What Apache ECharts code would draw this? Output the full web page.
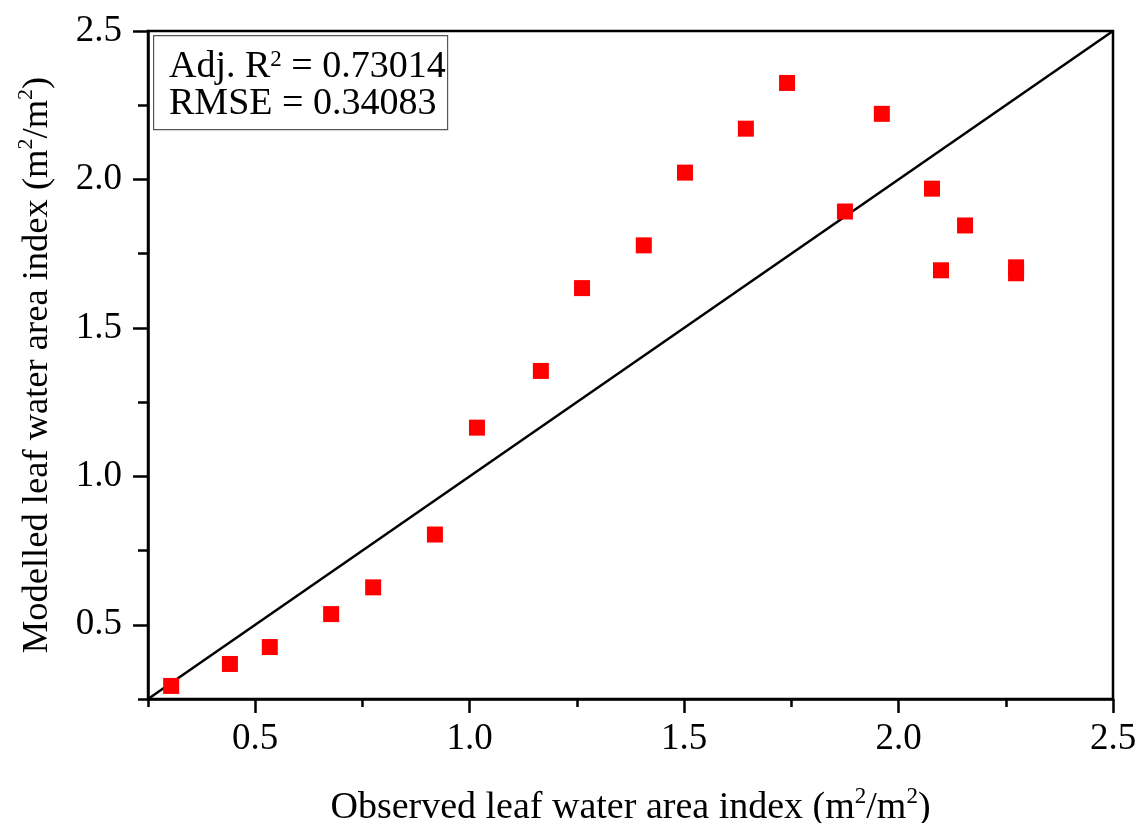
<!DOCTYPE html>
<html>
<head>
<meta charset="utf-8">
<script src="https://cdn.jsdelivr.net/npm/echarts@6/dist/echarts.min.js"></script>
<style>
html,body{margin:0;padding:0;background:#fff;}
#chart{width:1146px;height:823px;}
</style>
</head>
<body>
<div id="chart"></div>
<script>
// Observed vs modelled leaf water area index (m2/m2)
var observed = [0.304,0.441,0.534,0.677,0.775,0.919,1.017,1.166,1.262,1.406,1.502,1.644,1.740,1.875,1.961,2.078,2.099,2.155,2.274,2.274];
var modelled = [0.294,0.368,0.425,0.536,0.626,0.804,1.164,1.355,1.634,1.778,2.023,2.171,2.325,1.892,2.221,1.969,1.694,1.845,1.704,1.684];
// 1:1 line
var lineX = [0.25, 2.5];
var lineY = [0.25, 2.5];
// Axis ticks
var majorTicks = [0.5, 1.0, 1.5, 2.0, 2.5];
var statsAdjR2 = '0.73014';
var statsRMSE = '0.34083';

var FONT = '"Liberation Serif","Times New Roman",serif';
var scatterData = observed.map(function(x, i){ return [x, modelled[i]]; });
var lineData = lineX.map(function(x, i){ return [x, lineY[i]]; });

function fmt(v){ return v.toFixed(1); }

var richX = {
  a: {fontFamily: FONT, fontSize: 38, color: '#000'},
  s: {fontFamily: FONT, fontSize: 23, color: '#000', verticalAlign: 'top', lineHeight: 46}
};
var richY = {
  a: {fontFamily: FONT, fontSize: 36.5, color: '#000'},
  s: {fontFamily: FONT, fontSize: 22, color: '#000', verticalAlign: 'top', lineHeight: 44}
};

var chart = echarts.init(document.getElementById('chart'), null, {renderer: 'canvas'});
chart.setOption({
  backgroundColor: '#fff',
  animation: false,
  grid: {left: 148, right: 33, top: 31, bottom: 124, containLabel: false, outerBoundsMode: 'none',
    show: true, borderColor: '#000', borderWidth: 2.5, backgroundColor: 'transparent'},
  xAxis: [{
    type: 'value', min: 0.25, max: 2.5, interval: 0.25,
    axisLine: {show: true, lineStyle: {color: '#000', width: 2.5}},
    axisTick: {show: true, inside: false, length: 8, lineStyle: {color: '#000', width: 2.5}},
    axisLabel: {show: true, customValues: majorTicks, formatter: fmt, margin: 22, fontFamily: FONT, fontSize: 37, color: '#000'},
    splitLine: {show: false},
    name: '{a|Observed leaf water area index (m}{s|2}{a|/m}{s|2}{a|)}',
    nameLocation: 'middle', nameGap: 86,
    nameTextStyle: {rich: richX}
  }, {
    type: 'value', min: 0.25, max: 2.5, interval: 0.25, position: 'bottom', gridIndex: 0,
    axisLine: {show: false},
    axisTick: {show: true, customValues: majorTicks, length: 14, lineStyle: {color: '#000', width: 2.5}},
    axisLabel: {show: false},
    splitLine: {show: false}
  }],
  yAxis: [{
    type: 'value', min: 0.25, max: 2.5, interval: 0.25,
    axisLine: {show: true, lineStyle: {color: '#000', width: 2.5}},
    axisTick: {show: true, inside: false, length: 10, lineStyle: {color: '#000', width: 2.5}},
    axisLabel: {show: true, customValues: majorTicks, formatter: fmt, margin: 26, fontFamily: FONT, fontSize: 37, color: '#000'},
    splitLine: {show: false},
    name: '{a|Modelled leaf water area index (m}{s|2}{a|/m}{s|2}{a|)}',
    nameLocation: 'middle', nameGap: 89, nameRotate: 90,
    nameTextStyle: {rich: richY}
  }, {
    type: 'value', min: 0.25, max: 2.5, interval: 0.25, position: 'left', gridIndex: 0,
    axisLine: {show: false},
    axisTick: {show: true, customValues: majorTicks, length: 15, lineStyle: {color: '#000', width: 2.5}},
    axisLabel: {show: false},
    splitLine: {show: false}
  }],
  series: [{
    type: 'line', xAxisIndex: 0, yAxisIndex: 0, data: lineData,
    symbol: 'none', lineStyle: {color: '#000', width: 2.5}, z: 2
  }, {
    type: 'scatter', xAxisIndex: 0, yAxisIndex: 0, data: scatterData,
    symbol: 'rect', symbolSize: 16, itemStyle: {color: '#ff0000', opacity: 1}, z: 3
  }],
  graphic: [{
    type: 'rect', left: 153, top: 35, z: 10,
    shape: {width: 294, height: 94},
    style: {fill: '#fff', stroke: '#555', lineWidth: 1.2}
  }, {
    type: 'text', left: 169, top: 48, z: 11,
    style: {
      text: '{a|Adj. R}{s|2}{a| = ' + statsAdjR2 + '}\n{a|RMSE = ' + statsRMSE + '}',
      rich: {
        a: {fontFamily: FONT, fontSize: 38, color: '#000', lineHeight: 37},
        s: {fontFamily: FONT, fontSize: 23, color: '#000', verticalAlign: 'top', lineHeight: 37}
      }
    }
  }]
});
</script>
</body>
</html>
